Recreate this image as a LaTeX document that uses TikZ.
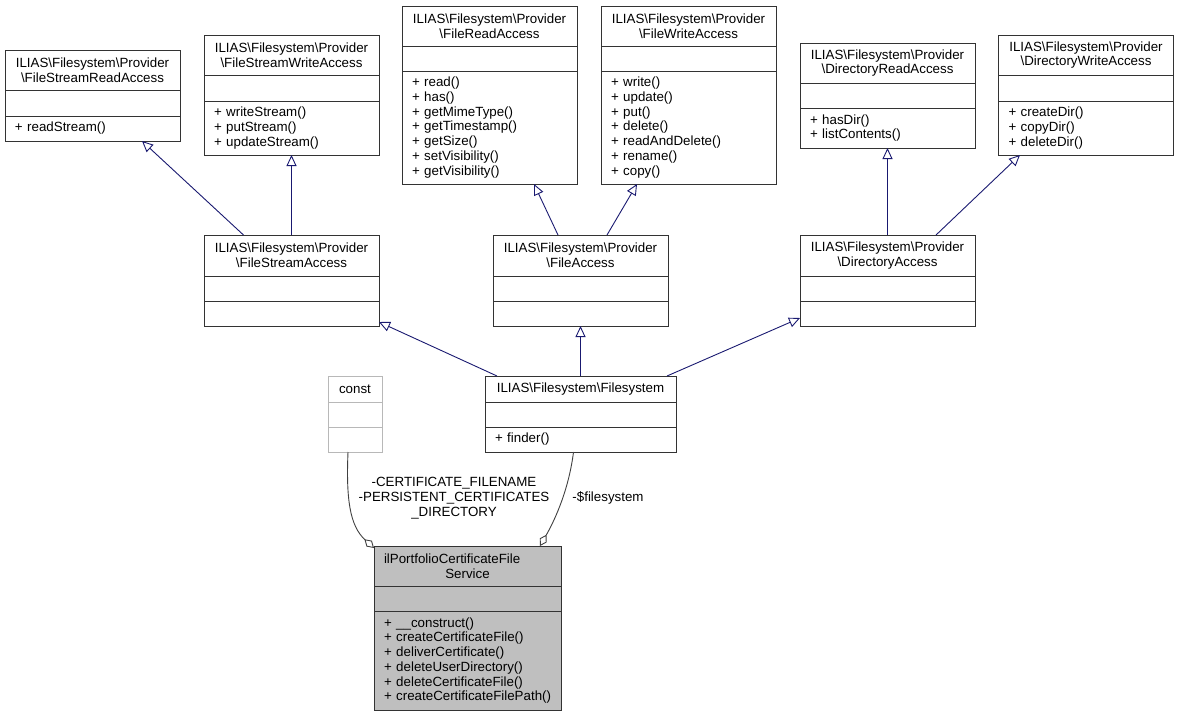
\documentclass[tikz,border=0pt]{standalone}
\usepackage{fontspec}
\setmainfont{Liberation Sans}
\usepackage{tikz}
\usetikzlibrary{arrows.meta,positioning,calc}

\definecolor{edgeblue}{HTML}{191970}
\newcommand{\bsl}{\textbackslash}

\begin{document}
\begin{tikzpicture}[
    x=1pt, y=-1pt,
    font=\fontsize{13.33pt}{14.7pt}\selectfont,
    head/.style={draw=black!80, line width=1pt, fill=white, inner xsep=10pt, inner ysep=0pt,
                 outer sep=0pt, text width=#1, align=center, minimum height=40pt,
                 execute at begin node={\hyphenpenalty=10000\exhyphenpenalty=10000}},
    head/.default=155pt,
    fields/.style={head=#1, minimum height=25pt},
    fields/.default=155pt,
    methods/.style={head=#1, align=left},
    methods/.default=155pt,
    inherit/.style={draw=edgeblue, line width=0.9pt, -{Triangle[open, length=11pt, width=10pt]}},
    agg/.style={draw=black!75, line width=0.9pt, -{Diamond[open, length=13pt, width=8pt]}},
    lbl/.style={align=center, inner sep=0pt}
  ]
    \useasboundingbox (0,0) rectangle (1179,716);

    % top row: provider interfaces
    \node[head, anchor=north] (fsra) at (92.5,50) {ILIAS\bsl Filesystem\bsl Provider\\\bsl FileStreamReadAccess};
    \node[fields, below=0pt of fsra, minimum height=26pt] (fsra-f) {};
    \node[methods, below=0pt of fsra-f, minimum height=25pt] (fsra-m) {+ readStream()};

    \node[head, anchor=north] (fswa) at (291.5,35) {ILIAS\bsl Filesystem\bsl Provider\\\bsl FileStreamWriteAccess};
    \node[fields, below=0pt of fswa, minimum height=26pt] (fswa-f) {};
    \node[methods, below=0pt of fswa-f, minimum height=54pt] (fswa-m) {+ writeStream()\\+ putStream()\\+ updateStream()};

    \node[head, anchor=north] (fra) at (489.5,6) {ILIAS\bsl Filesystem\bsl Provider\\\bsl FileReadAccess};
    \node[fields, below=0pt of fra] (fra-f) {};
    \node[methods, below=0pt of fra-f, minimum height=113pt] (fra-m) {+ read()\\+ has()\\+ getMimeType()\\+ getTimestamp()\\+ getSize()\\+ setVisibility()\\+ getVisibility()};

    \node[head, anchor=north] (fwa) at (688.5,6) {ILIAS\bsl Filesystem\bsl Provider\\\bsl FileWriteAccess};
    \node[fields, below=0pt of fwa] (fwa-f) {};
    \node[methods, below=0pt of fwa-f, minimum height=113pt] (fwa-m) {+ write()\\+ update()\\+ put()\\+ delete()\\+ readAndDelete()\\+ rename()\\+ copy()};

    \node[head, anchor=north] (dra) at (887.5,43) {ILIAS\bsl Filesystem\bsl Provider\\\bsl DirectoryReadAccess};
    \node[fields, below=0pt of dra] (dra-f) {};
    \node[methods, below=0pt of dra-f, minimum height=40pt] (dra-m) {+ hasDir()\\+ listContents()};

    \node[head, anchor=north] (dwa) at (1086,35) {ILIAS\bsl Filesystem\bsl Provider\\\bsl DirectoryWriteAccess};
    \node[fields, below=0pt of dwa, minimum height=26pt] (dwa-f) {};
    \node[methods, below=0pt of dwa-f, minimum height=54pt] (dwa-m) {+ createDir()\\+ copyDir()\\+ deleteDir()};

    % middle row
    \node[head, anchor=north, minimum height=41pt] (fsa) at (291.5,235) {ILIAS\bsl Filesystem\bsl Provider\\\bsl FileStreamAccess};
    \node[fields, below=0pt of fsa] (fsa-f) {};
    \node[methods, below=0pt of fsa-f, minimum height=25pt] (fsa-m) {};

    \node[head, anchor=north, minimum height=41pt] (fa) at (580.5,235) {ILIAS\bsl Filesystem\bsl Provider\\\bsl FileAccess};
    \node[fields, below=0pt of fa] (fa-f) {};
    \node[methods, below=0pt of fa-f, minimum height=25pt] (fa-m) {};

    \node[head, anchor=north, minimum height=41pt] (da) at (887.5,235) {ILIAS\bsl Filesystem\bsl Provider\\\bsl DirectoryAccess};
    \node[fields, below=0pt of da] (da-f) {};
    \node[methods, below=0pt of da-f, minimum height=25pt] (da-m) {};

    % filesystem and const
    \node[head=171pt, anchor=north, minimum height=26pt] (fs) at (580.5,376) {ILIAS\bsl Filesystem\bsl Filesystem};
    \node[fields=171pt, below=0pt of fs] (fs-f) {};
    \node[methods=171pt, below=0pt of fs-f, minimum height=25pt] (fs-m) {+ finder()};

    \node[head=34pt, draw=black!28, anchor=north, minimum height=26pt] (const) at (355,376) {const};
    \node[fields=34pt, draw=black!28, below=0pt of const] (const-f) {};
    \node[methods=34pt, draw=black!28, below=0pt of const-f, minimum height=25pt] (const-m) {};

    % service class
    \node[head=167pt, fill=black!25, align=left, anchor=north] (svc) at (467.5,546) {ilPortfolioCertificateFile\\\hskip0pt plus1fill Service\hskip0pt plus1fill\null};
    \node[fields=167pt, fill=black!25, below=0pt of svc] (svc-f) {};
    \node[methods=167pt, fill=black!25, below=0pt of svc-f, minimum height=99pt] (svc-m) {+ \_\_construct()\\+ createCertificateFile()\\+ deliverCertificate()\\+ deleteUserDirectory()\\+ deleteCertificateFile()\\+~createCertificateFilePath()};

    % inheritance
    \draw[inherit] ([xshift=-48pt]fsa.north) -- ([xshift=49.5pt]fsra-m.south);
    \draw[inherit] (fsa.north) -- (fswa-m.south);
    \draw[inherit] ([xshift=-22.5pt]fa.north) -- ([xshift=44.5pt]fra-m.south);
    \draw[inherit] ([xshift=26.5pt]fa.north) -- ([xshift=-51.5pt]fwa-m.south);
    \draw[inherit] (da.north) -- (dra-m.south);
    \draw[inherit] ([xshift=48.5pt]da.north) -- ([xshift=-66pt]dwa-m.south);
    \draw[inherit] ([xshift=-83.5pt]fs.north) -- ([yshift=4pt]fsa-m.south east);
    \draw[inherit] (fs.north) -- (fa-m.south);
    \draw[inherit] ([xshift=86.5pt]fs.north) -- ([yshift=8pt]da-m.south west);

    % aggregation
    \draw[agg] ([xshift=-7pt]const-m.south) .. controls (346,500) and (350,526) .. ([yshift=-2pt]svc.north west);
    \draw[agg] ([xshift=-7pt]fs-m.south) .. controls (569,488) and (556,518) .. ([xshift=72.5pt]svc.north);

    \node[lbl] (lblconst) at (454,498) {-CERTIFICATE\_FILENAME\\-PERSISTENT\_CERTIFICATES\\\_DIRECTORY};
    \node[lbl] (lblfs) at (608,498) {-\$filesystem};
\end{tikzpicture}
\end{document}
